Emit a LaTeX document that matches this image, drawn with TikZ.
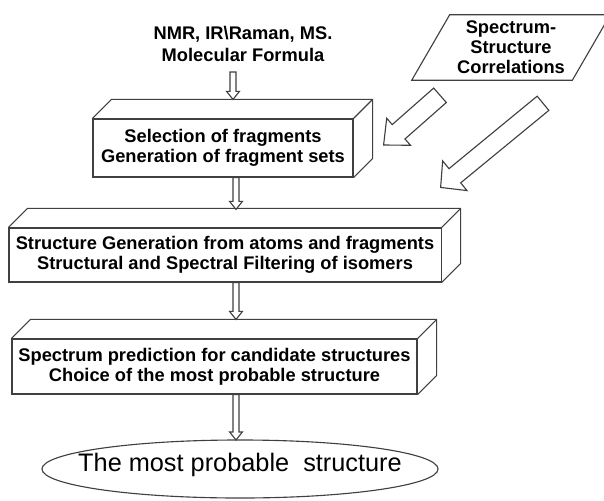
\documentclass[tikz,border=0pt]{standalone}
\usepackage{fontspec}
\setmainfont{Liberation Sans}
\usetikzlibrary{positioning,calc,shapes.geometric}

\newcommand{\hollowarrow}[5]{%
  \draw[edge,fill=white]
    ($(#1)!#3!90:(#2)$) -- ($(#2)!#5!(#1)!#3!90:(#2)$) -- ($(#2)!#5!(#1)!#4!90:(#2)$) -- (#2)
    -- ($(#2)!#5!(#1)!#4!-90:(#2)$) -- ($(#2)!#5!(#1)!#3!-90:(#2)$) -- ($(#1)!#3!-90:(#2)$) -- cycle;}
\newcommand{\cuboidtop}[1]{%
  \draw[edge] (#1.north west) -- ++(19,-19) -- ($(#1.north east)+(19,-19)$) -- ($(#1.south east)+(19,-19)$)
    -- (#1.south east) (#1.north east) -- ++(19,-19);}

\begin{document}
\begin{tikzpicture}[x=0.025cm,y=-0.025cm,
    edge/.style={draw=black!75,line width=0.8pt,line join=miter},
    stage/.style={edge,align=center,inner sep=0pt,font=\fontsize{13pt}{14.5pt}\selectfont\bfseries},
    plain/.style={align=center,font=\fontsize{13pt}{15.5pt}\selectfont\bfseries}]
    \useasboundingbox (0,0) rectangle (604,500);
    \node[plain] (src) at (243,44) {NMR, IR\textbackslash Raman, MS.\\Molecular Formula};
    \node[plain,font=\fontsize{13pt}{14.2pt}\selectfont\bfseries,minimum width=4cm,minimum height=1.625cm] (corr) at (511,47.5) {Spectrum-\\Structure\\Correlations};
    \draw[edge] ($(corr.south west)+(-19,0)$) -- ($(corr.north west)+(19,0)$) -- ($(corr.north east)+(19,0)$) -- ($(corr.south east)+(-19,0)$) -- cycle;
    \node[stage,minimum width=6.5cm,minimum height=1.45cm] (frag) at (223,148) {Selection of fragments\\Generation of fragment sets};
    \node[stage,minimum width=10.8cm,minimum height=1.35cm] (gen) at (225,255) {Structure Generation from atoms and fragments\\Structural and Spectral Filtering of isomers};
    \node[stage,minimum width=10.125cm,minimum height=1.375cm] (pred) at (214.5,366.5) {Spectrum prediction for candidate structures\\Choice of the most probable structure};
    \node[inner sep=0pt,font=\fontsize{18pt}{20pt}\selectfont] (res) at (240,465) {The most probable\ \ structure};
    \draw[edge] ($(res.center)+(0,4)$) ellipse [x radius=4.95cm, y radius=0.725cm];
    \cuboidtop{frag}
    \cuboidtop{gen}
    \cuboidtop{pred}
    \coordinate (o0) at (233,72);
    \coordinate (i1) at ($(frag.north)+(10,-19)$);
    \coordinate (o1) at ($(frag.south)+(13,0)$);
    \coordinate (i2) at ($(gen.north)+(11,-18)$);
    \coordinate (o2) at ($(gen.south)+(11,0)$);
    \coordinate (i3) at ($(pred.north)+(21.5,-19)$);
    \coordinate (o3) at ($(pred.south)+(21.5,0)$);
    \coordinate (i4) at ($(res.center -| o3)+(0,-25)$);
    \coordinate (c1) at ($(corr.south)+(-71,15)$);
    \coordinate (t1) at ($(frag.east)+(30,-3)$);
    \coordinate (c2) at ($(corr.south)+(32,23)$);
    \coordinate (t2) at ($(gen.north east)+(-1,-40)$);
    \hollowarrow{o0}{i1}{0.075cm}{0.16cm}{0.2cm}
    \hollowarrow{o1}{i2}{0.075cm}{0.16cm}{0.2cm}
    \hollowarrow{o2}{i3}{0.075cm}{0.16cm}{0.2cm}
    \hollowarrow{o3}{i4}{0.075cm}{0.16cm}{0.2cm}
    \hollowarrow{c1}{t1}{0.24cm}{0.45cm}{0.5cm}
    \hollowarrow{c2}{t2}{0.23cm}{0.48cm}{0.46cm}
\end{tikzpicture}
\end{document}
